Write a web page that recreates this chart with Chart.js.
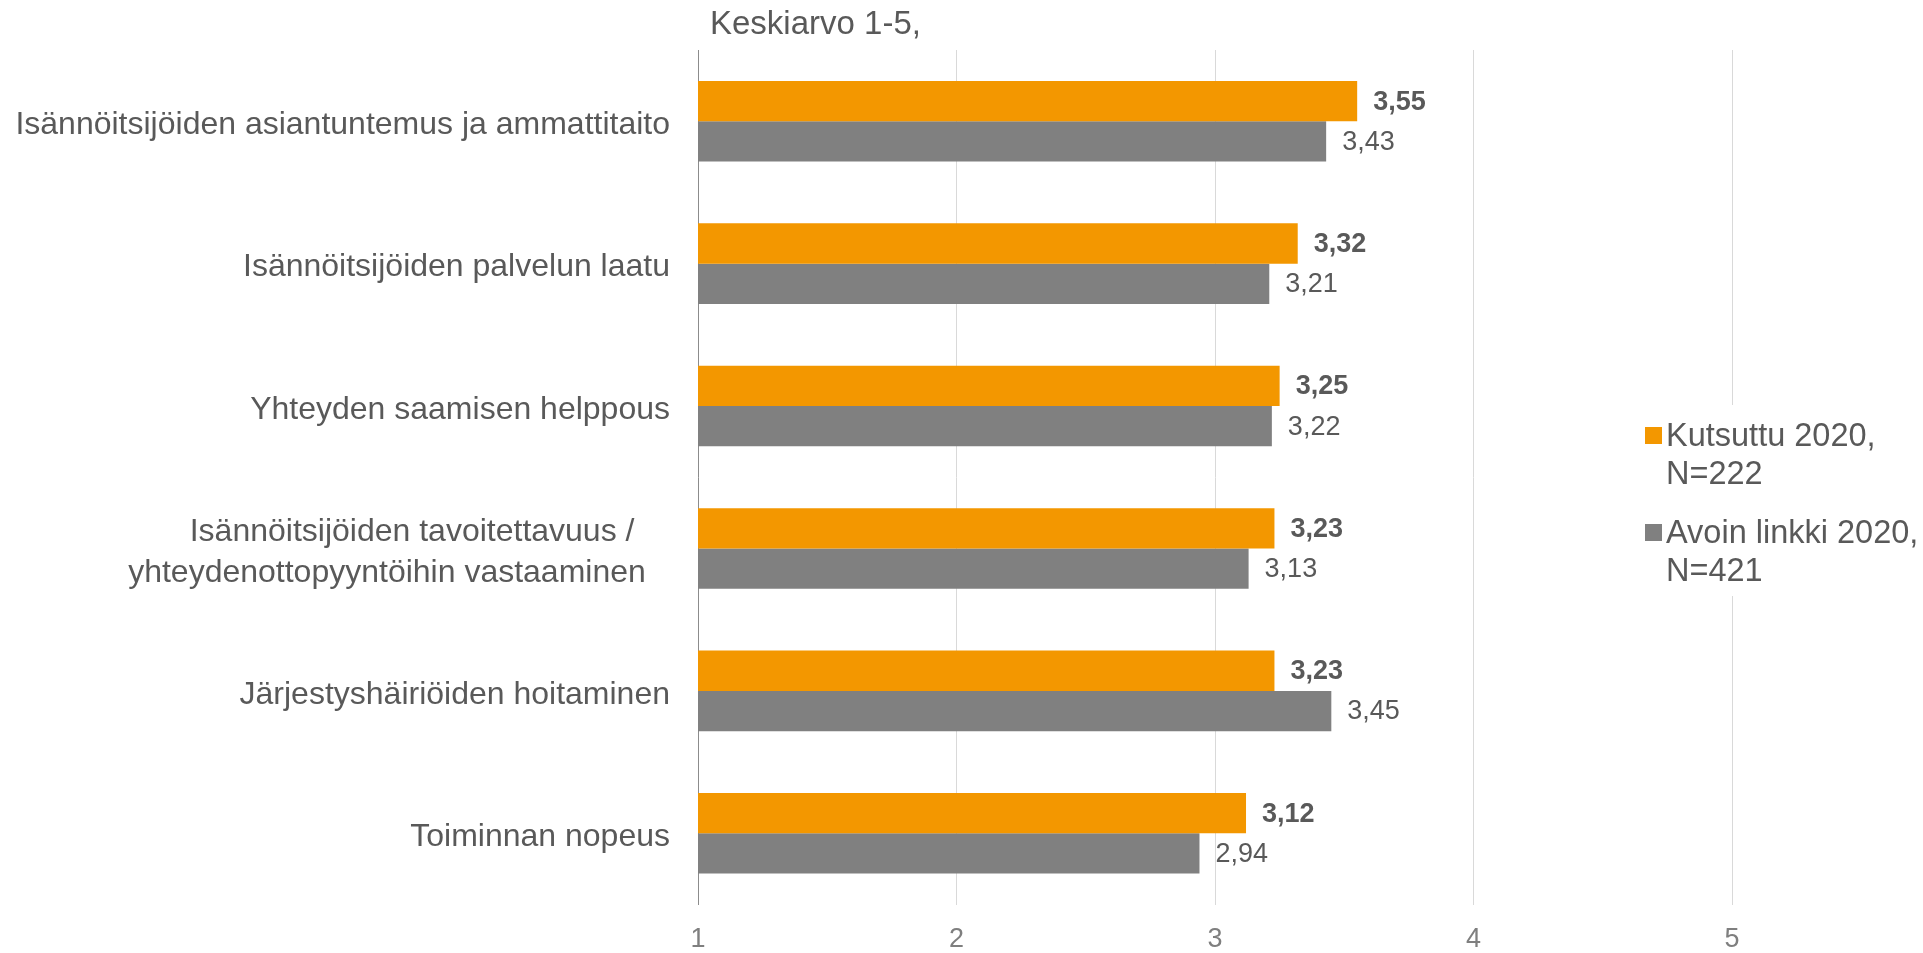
<!DOCTYPE html>
<html>
<head>
<meta charset="utf-8">
<script src="https://cdn.jsdelivr.net/npm/chart.js@4.4.1/dist/chart.umd.min.js"></script>
<style>
  html, body { margin: 0; padding: 0; background: #fff; }
  #wrap { width: 1923px; height: 953px; position: relative; }
</style>
</head>
<body>
<div id="wrap"><canvas id="chart"></canvas></div>
<script>
const categories = [
  'Isännöitsijöiden asiantuntemus ja ammattitaito',
  'Isännöitsijöiden palvelun laatu',
  'Yhteyden saamisen helppous',
  ['Isännöitsijöiden tavoitettavuus /    ', 'yhteydenottopyyntöihin vastaaminen  \u2009'],
  'Järjestyshäiriöiden hoitaminen',
  'Toiminnan nopeus'
];
const invited = [3.55, 3.32, 3.25, 3.23, 3.23, 3.12];
const openLink = [3.43, 3.21, 3.22, 3.13, 3.45, 2.94];
const seriesNames = [['Kutsuttu 2020,', 'N=222'], ['Avoin linkki 2020,', 'N=421']];
const xTicks = [1, 2, 3, 4, 5];
const axisTitle = 'Keskiarvo 1-5,';

const FONT = "'Liberation Sans', Arial, sans-serif";
const TEXT = '#595959';
const ORANGE = '#F39700';
const GREY = '#808080';

// value labels at the end of each bar
const valueLabels = {
  id: 'valueLabels',
  afterDatasetsDraw(chart) {
    const ctx = chart.ctx;
    ctx.save();
    ctx.fillStyle = TEXT;
    ctx.textAlign = 'left';
    ctx.textBaseline = 'middle';
    chart.data.datasets.forEach((ds, i) => {
      ctx.font = (i === 0 ? 'bold ' : '') + '27px ' + FONT;
      chart.getDatasetMeta(i).data.forEach((bar, j) => {
        ctx.fillText(ds.data[j].toFixed(2).replace('.', ','), bar.x + 16, bar.y + 1);
      });
    });
    ctx.restore();
  }
};

// title text and legend drawn on top
const extras = {
  id: 'extras',
  afterDraw(chart) {
    const ctx = chart.ctx;
    const area = chart.chartArea;
    ctx.save();
    ctx.fillStyle = TEXT;
    ctx.font = '33px ' + FONT;
    ctx.textAlign = 'left';
    ctx.textBaseline = 'alphabetic';
    ctx.fillText(axisTitle, area.left + 12, 34);

    // legend box
    ctx.font = '32.5px ' + FONT;
    ctx.fillStyle = '#fff';
    ctx.fillRect(1635, 405, 288, 191);
    const tops = [446, 543];
    chart.data.datasets.forEach((ds, i) => {
      ctx.fillStyle = ds.backgroundColor;
      ctx.fillRect(1645, tops[i] - 19, 17, 17);
      ctx.fillStyle = TEXT;
      ds.label.forEach((line, k) => {
        ctx.fillText(line, 1666, tops[i] + k * 38);
      });
    });
    ctx.restore();
  }
};

new Chart(document.getElementById('chart'), {
  type: 'bar',
  data: {
    labels: categories,
    datasets: [
      { label: seriesNames[0], data: invited, backgroundColor: ORANGE },
      { label: seriesNames[1], data: openLink, backgroundColor: GREY }
    ]
  },
  options: {
    indexAxis: 'y',
    responsive: true,
    maintainAspectRatio: false,
    animation: false,
    layout: { padding: { top: 50, right: 191, left: 0, bottom: 0 } },
    datasets: { bar: { categoryPercentage: 0.566, barPercentage: 1 } },
    scales: {
      x: {
        min: 1,
        max: 5,
        afterBuildTicks: s => { s.ticks = xTicks.map(v => ({ value: v })); },
        afterFit: s => { s.height = 43; },
        grid: { color: '#d9d9d9', drawTicks: false },
        border: { display: false },
        ticks: { color: '#7f7f7f', font: { family: FONT, size: 27 }, padding: 19 }
      },
      y: {
        afterFit: s => { s.width = 698; },
        grid: { display: false, drawTicks: false },
        border: { display: true, color: '#8c8c8c', width: 1 },
        ticks: { color: TEXT, font: { family: FONT, size: 32, lineHeight: 1.28 }, padding: 28, labelOffset: 4 }
      }
    },
    plugins: {
      legend: { display: false },
      tooltip: { enabled: false }
    }
  },
  plugins: [valueLabels, extras]
});
</script>
</body>
</html>
